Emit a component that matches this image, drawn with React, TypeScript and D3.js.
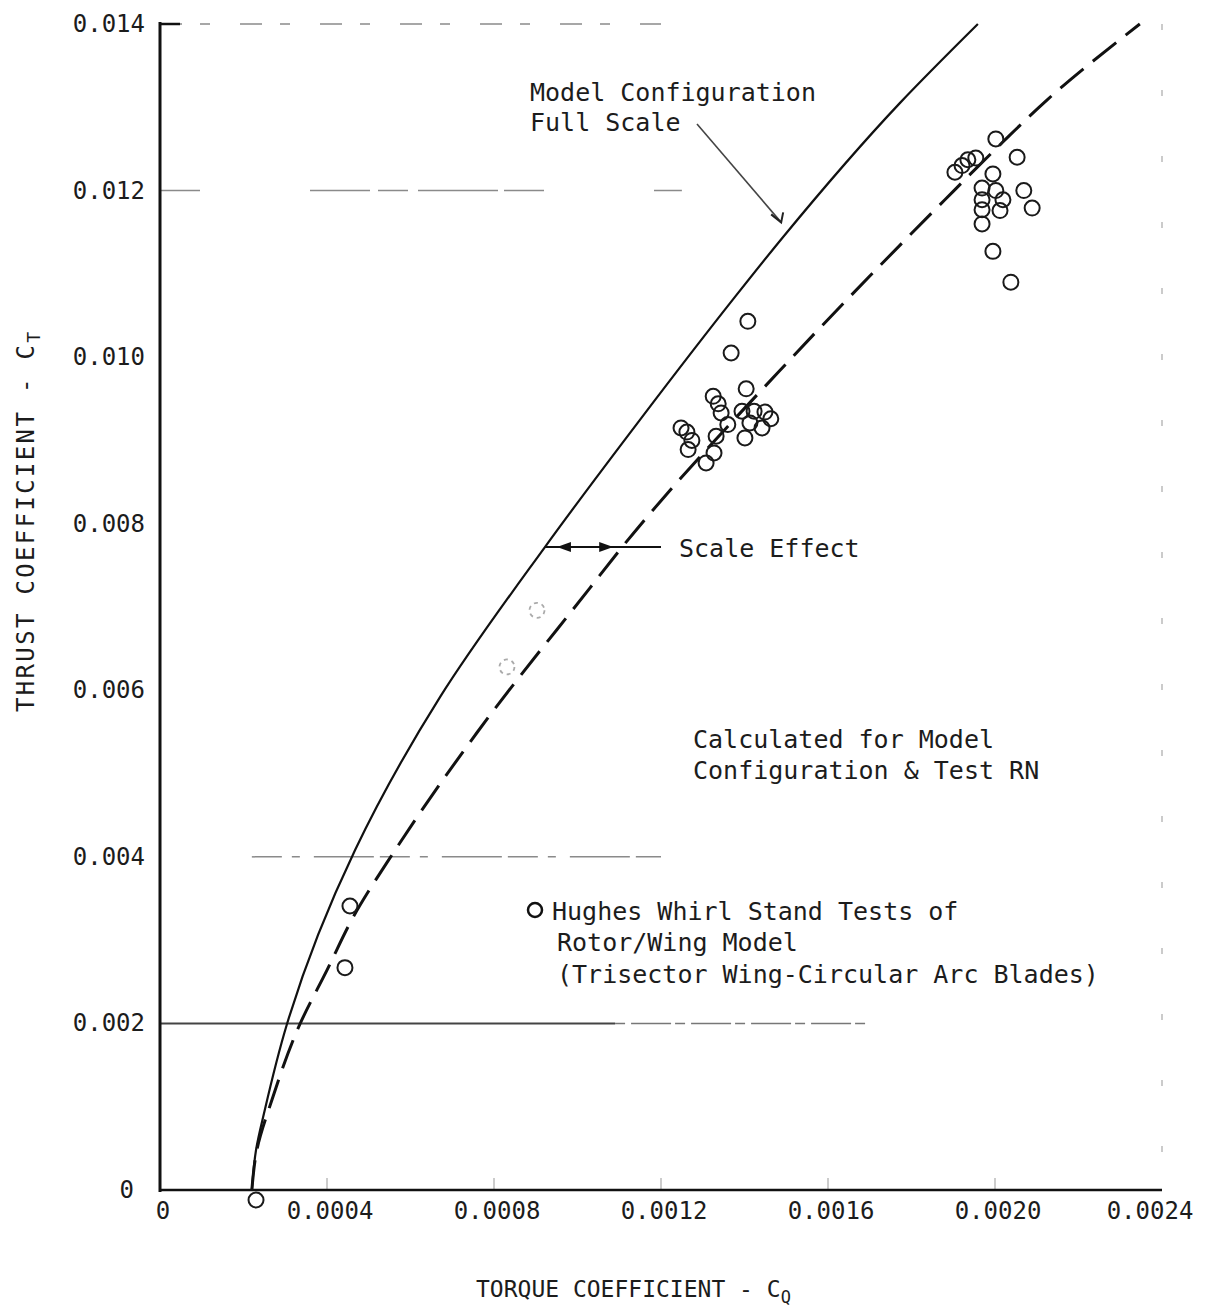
import React from 'react';
import * as d3 from 'd3';

const W = 1208;
const H = 1311;

// Axis ticks
const xTicks = [0, 0.0004, 0.0008, 0.0012, 0.0016, 0.002, 0.0024];
const xTickLabels = ['0', '0.0004', '0.0008', '0.0012', '0.0016', '0.0020', '0.0024'];
const yTicks = [0, 0.002, 0.004, 0.006, 0.008, 0.01, 0.012, 0.014];
const yTickLabels = ['0', '0.002', '0.004', '0.006', '0.008', '0.010', '0.012', '0.014'];

// Calculated curve: model configuration, full scale  [CQ, CT]
const fullScaleCurve: [number, number][] = [
  [0.00022, 0],
  [0.00023, 0.00048],
  [0.000251, 0.00096],
  [0.000304, 0.00199],
  [0.000467, 0.00408],
  [0.000671, 0.00592],
  [0.000922, 0.00772],
  [0.00115, 0.00925],
  [0.001372, 0.01069],
  [0.001492, 0.01144],
  [0.001772, 0.01305],
  [0.001959, 0.014],
];

// Calculated curve: model configuration at test Reynolds number  [CQ, CT]
const testRnCurve: [number, number][] = [
  [0.00022, 0],
  [0.000232, 0.00048],
  [0.000268, 0.00108],
  [0.000335, 0.00199],
  [0.0004, 0.00264],
  [0.000462, 0.00327],
  [0.000563, 0.00408],
  [0.000759, 0.00549],
  [0.00103, 0.00723],
  [0.001107, 0.00772],
  [0.001509, 0.00997],
  [0.00188, 0.01189],
  [0.002012, 0.01255],
  [0.002125, 0.01309],
  [0.002347, 0.014],
];

// Hughes whirl stand tests  [CQ, CT]
const whirlStandTests: [number, number][] = [
  [0.00023, -0.00012],
  [0.000443, 0.00267],
  [0.000455, 0.00341],
  [0.001248, 0.00915],
  [0.001262, 0.0091],
  [0.001274, 0.009],
  [0.001265, 0.00889],
  [0.001308, 0.00873],
  [0.001327, 0.00885],
  [0.001325, 0.00953],
  [0.001337, 0.00944],
  [0.001344, 0.00933],
  [0.00136, 0.00919],
  [0.001332, 0.00905],
  [0.001368, 0.01005],
  [0.001394, 0.00935],
  [0.001401, 0.00903],
  [0.001404, 0.00962],
  [0.001408, 0.01043],
  [0.001413, 0.00921],
  [0.001423, 0.00935],
  [0.001442, 0.00915],
  [0.001449, 0.00934],
  [0.001463, 0.00926],
  [0.001904, 0.01222],
  [0.001921, 0.0123],
  [0.001935, 0.01237],
  [0.001954, 0.01239],
  [0.001969, 0.01203],
  [0.001969, 0.01189],
  [0.001969, 0.01177],
  [0.001969, 0.0116],
  [0.001995, 0.0122],
  [0.001995, 0.01127],
  [0.002002, 0.01262],
  [0.002002, 0.012],
  [0.002012, 0.01176],
  [0.002019, 0.01189],
  [0.002038, 0.0109],
  [0.002053, 0.0124],
  [0.002069, 0.012],
  [0.002089, 0.01179],
];

// Faded test points
const fadedTests: [number, number][] = [
  [0.000903, 0.00696],
  [0.000831, 0.00628],
];

// Background grid rows [CT, CQ from, CQ to]
const gridRows: [number, number, number][] = [
  [0.014, 0, 0.0012],
  [0.012, 0, 0.00125],
  [0.004, 0.00022, 0.0012],
];
// Darker reference row at CT = 0.002  [CT, CQ from, CQ to]
const baseRow: [number, number, number] = [0.002, 0, 0.00109];
const baseRowTail: [number, number, number] = [0.002, 0.00109, 0.0017];

// Scale-effect arrow at this CT, between the two curves
const scaleEffectCT = 0.00772;
const scaleEffectFrom = 0.000922;
const scaleEffectTo = 0.001107;
const scaleEffectEnd = 0.0012;

// Leader target on the full-scale curve
const fullScaleLeader: [number, number] = [0.001495, 0.01157];

const FONT = "'DejaVu Sans Mono', 'Liberation Mono', monospace";
const INK = '#1c1c1c';

export default function App() {
  const x = d3.scaleLinear().domain([0, 0.0024]).range([160, 1162]);
  const y = d3.scaleLinear().domain([0, 0.014]).range([1190, 24]);

  const line = d3
    .line<[number, number]>()
    .x((d) => x(d[0]))
    .y((d) => y(d[1]))
    .curve(d3.curveMonotoneY);

  const seY = y(scaleEffectCT);
  const seX1 = x(scaleEffectFrom);
  const seX2 = x(scaleEffectTo);
  const seX3 = x(scaleEffectEnd);

  const lx = x(fullScaleLeader[0]);
  const ly = y(fullScaleLeader[1]);

  return (
    <svg
      width={W}
      height={H}
      viewBox={`0 0 ${W} ${H}`}
      style={{ position: 'absolute', left: 0, top: 0, background: '#fff' }}
    >
      <rect x={0} y={0} width={W} height={H} fill="#fff" />

      {/* faint grid rows */}
      {gridRows.map(([ct, a, b], i) => (
        <line
          key={'g' + i}
          x1={x(a)}
          x2={x(b)}
          y1={y(ct)}
          y2={y(ct)}
          stroke="#8a8a8a"
          strokeWidth={1.5}
          strokeDasharray={ct === 0.014 ? '22 18 10 30' : ct === 0.012 ? '40 110 60 8 30 10 80 6' : '30 10 8 14 60 6'}
        />
      ))}
      <line x1={x(baseRow[1])} x2={x(baseRow[2])} y1={y(baseRow[0])} y2={y(baseRow[0])} stroke="#444" strokeWidth={2} />
      <line
        x1={x(baseRowTail[1])}
        x2={x(baseRowTail[2])}
        y1={y(baseRowTail[0])}
        y2={y(baseRowTail[0])}
        stroke="#777"
        strokeWidth={1.5}
        strokeDasharray="10 6 40 4"
      />
      {/* faint right border */}
      <line x1={x(0.0024)} x2={x(0.0024)} y1={y(0.014)} y2={y(0)} stroke="#bbb" strokeWidth={1.5} strokeDasharray="6 60" />
      {/* faint tick marks above x axis */}
      {xTicks.slice(1, 6).map((t, i) => (
        <line key={'mt' + i} x1={x(t)} x2={x(t)} y1={y(0) - 12} y2={y(0)} stroke="#bbb" strokeWidth={1.5} />
      ))}

      {/* axes */}
      <line x1={x(0)} x2={x(0)} y1={y(0.014) - 2} y2={y(0) + 2} stroke="#111" strokeWidth={3} />
      <line x1={x(0) - 1} x2={x(0.0024)} y1={y(0)} y2={y(0)} stroke="#111" strokeWidth={2.5} />
      <line x1={x(0)} x2={x(0) + 20} y1={y(0.014)} y2={y(0.014)} stroke="#111" strokeWidth={2.5} />

      {/* tick labels */}
      {yTicks.map((t, i) => (
        <text
          key={'yl' + i}
          x={i === 0 ? 134 : 145}
          y={y(t) + 8}
          textAnchor="end"
          fontFamily={FONT}
          fontSize={24}
          fill={INK}
        >
          {yTickLabels[i]}
        </text>
      ))}
      {xTicks.map((t, i) => (
        <text
          key={'xl' + i}
          x={i === 6 ? x(t) - 12 : x(t) + 3}
          y={1219}
          textAnchor="middle"
          fontFamily={FONT}
          fontSize={24}
          fill={INK}
        >
          {xTickLabels[i]}
        </text>
      ))}

      {/* axis titles */}
      <text x={476} y={1297} fontFamily={FONT} fontSize={23} fill={INK}>
        TORQUE COEFFICIENT - C
        <tspan fontSize={17} dy={6}>Q</tspan>
      </text>
      <text
        transform="translate(34,712) rotate(-90)"
        fontFamily={FONT}
        fontSize={24}
        fill={INK}
      >
        <tspan textLength={367} lengthAdjust="spacing">THRUST COEFFICIENT - C</tspan>
        <tspan fontSize={18} dy={6}>T</tspan>
      </text>

      {/* calculated curves */}
      <path d={line(fullScaleCurve) ?? ''} fill="none" stroke="#111" strokeWidth={2.2} />
      <path
        d={line(testRnCurve) ?? ''}
        fill="none"
        stroke="#111"
        strokeWidth={3}
        strokeDasharray="30 12"
      />

      {/* test points */}
      {fadedTests.map((d, i) => (
        <circle
          key={'f' + i}
          cx={x(d[0])}
          cy={y(d[1])}
          r={7.5}
          fill="none"
          stroke="#aaa"
          strokeWidth={1.8}
          strokeDasharray="4 4"
        />
      ))}
      {whirlStandTests.map((d, i) => (
        <circle
          key={'p' + i}
          cx={x(d[0])}
          cy={y(d[1])}
          r={7.5}
          fill="none"
          stroke="#1a1a1a"
          strokeWidth={2}
        />
      ))}

      {/* full-scale annotation */}
      <text x={530} y={101} fontFamily={FONT} fontSize={25} fill={INK}>
        Model Configuration
      </text>
      <text x={530} y={131} fontFamily={FONT} fontSize={25} fill={INK}>
        Full Scale
      </text>
      <line x1={697} y1={124} x2={lx - 3} y2={ly - 4} stroke="#444" strokeWidth={1.6} />
      <path d={`M${lx - 13},${ly - 12} L${lx - 3},${ly - 4} L${lx - 1},${ly - 14}`} fill="none" stroke="#222" strokeWidth={2} />

      {/* scale effect arrow */}
      <line x1={seX1} x2={seX3} y1={seY} y2={seY} stroke="#111" strokeWidth={2} />
      <path d={`M${seX1 + 12},${seY} L${seX1 + 26},${seY - 5} L${seX1 + 26},${seY + 5} Z`} fill="#111" />
      <path d={`M${seX2 - 9},${seY} L${seX2 - 23},${seY - 5} L${seX2 - 23},${seY + 5} Z`} fill="#111" />
      <text x={679} y={557} fontFamily={FONT} fontSize={25} fill={INK}>
        Scale Effect
      </text>

      {/* test-RN annotation */}
      <text x={693} y={748} fontFamily={FONT} fontSize={25} fill={INK}>
        Calculated for Model
      </text>
      <text x={693} y={779} fontFamily={FONT} fontSize={25} fill={INK}>
        Configuration &amp; Test RN
      </text>

      {/* legend */}
      <circle cx={535} cy={910} r={7} fill="none" stroke="#111" strokeWidth={2.5} />
      <text x={552} y={920} fontFamily={FONT} fontSize={25} fill={INK}>
        Hughes Whirl Stand Tests of
      </text>
      <text x={557} y={951} fontFamily={FONT} fontSize={25} fill={INK}>
        Rotor/Wing Model
      </text>
      <text x={557} y={983} fontFamily={FONT} fontSize={25} fill={INK}>
        (Trisector Wing-Circular Arc Blades)
      </text>
    </svg>
  );
}
